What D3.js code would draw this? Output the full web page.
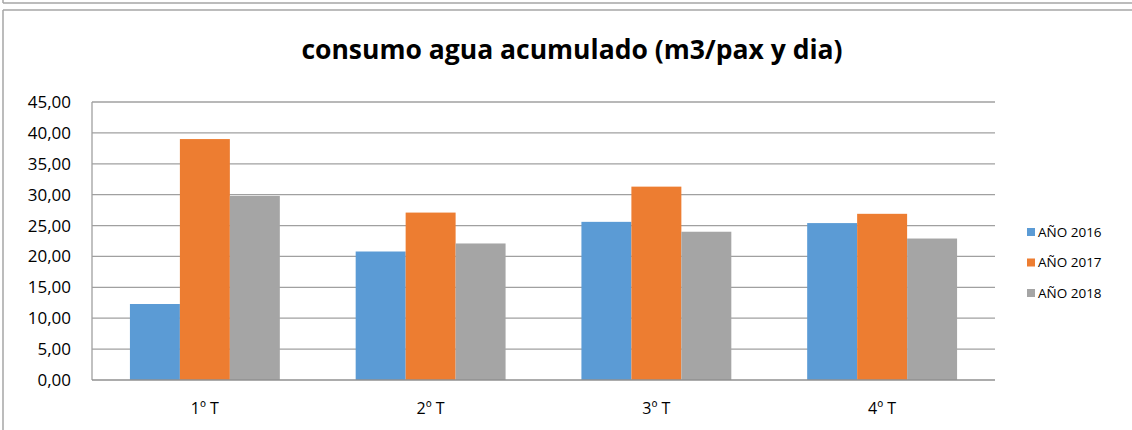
<!DOCTYPE html>
<html>
<head>
<meta charset="utf-8">
<script src="https://cdn.jsdelivr.net/npm/d3@7"></script>
<style>
  body { margin: 0; background: #fff; }
  text { font-family: "Open Sans", "DejaVu Sans", sans-serif; }
</style>
</head>
<body>
<svg id="chart" width="1132" height="430"></svg>
<script>
var categories = ["1º T", "2º T", "3º T", "4º T"]
var seriesNames = ["AÑO 2016", "AÑO 2017", "AÑO 2018"]
var values2016 = [12.3, 20.8, 25.6, 25.4]
var values2017 = [39.0, 27.1, 31.3, 26.9]
var values2018 = [29.8, 22.1, 24.0, 22.9]
var yTicks = [0, 5, 10, 15, 20, 25, 30, 35, 40, 45]

var colors = ["#5b9bd5", "#ed7d31", "#a5a5a5"]
var allSeries = [values2016, values2017, values2018]

var svg = d3.select("#chart")

// outer frames (previous chart bottom edge + this chart's border)
svg.append("line")
    .attr("x1", 3).attr("x2", 1132).attr("y1", 3).attr("y2", 3)
    .attr("stroke", "#a6a6a6").attr("stroke-width", 1.5)
svg.append("line")
    .attr("x1", 3).attr("x2", 3).attr("y1", 0).attr("y2", 3)
    .attr("stroke", "#a6a6a6").attr("stroke-width", 1.5)
svg.append("line")
    .attr("x1", 3).attr("x2", 1132).attr("y1", 10).attr("y2", 10)
    .attr("stroke", "#a6a6a6").attr("stroke-width", 1.5)
svg.append("line")
    .attr("x1", 3).attr("x2", 3).attr("y1", 10).attr("y2", 430)
    .attr("stroke", "#a6a6a6").attr("stroke-width", 1.5)

var plotLeft = 92, plotRight = 995, plotTop = 102, plotBottom = 380

var x = d3.scaleBand()
    .domain(categories)
    .range([plotLeft, plotRight])

var xInner = d3.scaleBand()
    .domain(d3.range(seriesNames.length))
    .range([0, x.bandwidth() * 0.664])

var y = d3.scaleLinear()
    .domain([0, 45])
    .range([plotBottom, plotTop])

// gridlines
svg.append("g")
    .selectAll("line")
    .data(yTicks.slice(1))
  .enter().append("line")
    .attr("x1", plotLeft).attr("x2", plotRight)
    .attr("y1", function(d) { return y(d) })
    .attr("y2", function(d) { return y(d) })
    .attr("stroke", "#a0a0a0")
    .attr("stroke-width", 1.3)

// left axis line
svg.append("line")
    .attr("x1", plotLeft).attr("x2", plotLeft).attr("y1", plotTop).attr("y2", plotBottom)
    .attr("stroke", "#a0a0a0").attr("stroke-width", 1.3)

// y tick labels
svg.append("g")
    .selectAll("text")
    .data(yTicks)
  .enter().append("text")
    .attr("x", 71)
    .attr("y", function(d) { return y(d) })
    .attr("dy", "0.35em")
    .attr("text-anchor", "end")
    .attr("font-size", 17)
    .attr("fill", "#000")
    .text(function(d) { return d3.format(".2f")(d).replace(".", ",") })

// bars
var groups = svg.append("g")
    .selectAll("g")
    .data(categories)
  .enter().append("g")
    .attr("transform", function(d) {
        return "translate(" + (x(d) + x.bandwidth() * 0.168) + ",0)"
    })

groups.selectAll("rect")
    .data(function(d, i) {
        return allSeries.map(function(s, j) { return { s: j, v: s[i] } })
    })
  .enter().append("rect")
    .attr("x", function(d) { return xInner(d.s) })
    .attr("width", xInner.bandwidth())
    .attr("y", function(d) { return y(d.v) })
    .attr("height", function(d) { return plotBottom - y(d.v) })
    .attr("fill", function(d) { return colors[d.s] })

// x axis baseline
svg.append("line")
    .attr("x1", plotLeft).attr("x2", plotRight).attr("y1", plotBottom).attr("y2", plotBottom)
    .attr("stroke", "#909090").attr("stroke-width", 1.5)

// x labels
svg.append("g")
    .selectAll("text")
    .data(categories)
  .enter().append("text")
    .attr("x", function(d) { return x(d) + x.bandwidth() / 2 })
    .attr("y", 408)
    .attr("dy", "0.35em")
    .attr("text-anchor", "middle")
    .attr("font-size", 16)
    .attr("fill", "#000")
    .text(function(d) { return d })

// title
svg.append("text")
    .attr("x", 572)
    .attr("y", 59)
    .attr("text-anchor", "middle")
    .attr("font-size", 26.5)
    .attr("font-weight", "bold")
    .attr("fill", "#000")
    .text("consumo agua acumulado (m3/pax y dia)")

// legend
var legend = svg.append("g")
    .selectAll("g")
    .data(seriesNames)
  .enter().append("g")
    .attr("transform", function(d, i) {
        return "translate(1027," + (232 + i * 30.5) + ")"
    })

legend.append("rect")
    .attr("x", 0).attr("y", -4)
    .attr("width", 8).attr("height", 8)
    .attr("fill", function(d, i) { return colors[i] })

legend.append("text")
    .attr("x", 11)
    .attr("y", 0)
    .attr("dy", "0.35em")
    .attr("font-size", 13.5)
    .attr("fill", "#000")
    .text(function(d) { return d })
</script>
</body>
</html>
